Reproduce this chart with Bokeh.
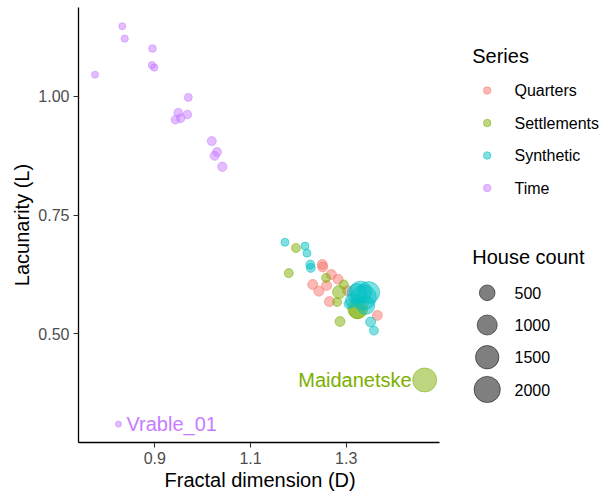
import math

from bokeh.core.properties import value
from bokeh.embed import file_html
from bokeh.models import ColumnDataSource, FixedTicker, NumeralTickFormatter, Range1d, Title
from bokeh.plotting import figure
from bokeh.resources import INLINE

FONT = "Liberation Sans"

# ---- data -------------------------------------------------------------
series_names = ["Quarters", "Settlements", "Synthetic", "Time"]
series_colors = ["#F8766D", "#7CAE00", "#00BFC4", "#C77CFF"]

quarters_D = [1.250, 1.251, 1.269, 1.283, 1.230, 1.259, 1.243, 1.265, 1.365, 1.303]
quarters_L = [0.646, 0.641, 0.625, 0.615, 0.604, 0.602, 0.590, 0.568, 0.539, 0.591]
quarters_houses = [107, 107, 107, 107, 107, 107, 107, 107, 107, 107]

settlements_D = [1.195, 1.180, 1.258, 1.295, 1.285, 1.281, 1.324, 1.287, 1.323, 1.464]
settlements_L = [0.681, 0.628, 0.618, 0.604, 0.588, 0.567, 0.553, 0.526, 0.549, 0.403]
settlements_houses = [68, 68, 68, 68, 278, 68, 990, 107, 530, 1590]

synthetic_D = [1.172, 1.214, 1.218, 1.225, 1.226, 1.305, 1.323, 1.337, 1.330,
               1.347, 1.313, 1.341, 1.351, 1.358]
synthetic_L = [0.693, 0.685, 0.670, 0.646, 0.639, 0.563, 0.585, 0.577, 0.588,
               0.587, 0.570, 0.560, 0.525, 0.507]
synthetic_houses = [37, 37, 37, 68, 68, 68, 990, 1760, 1270,
                    1270, 350, 740, 107, 68]

time_D = [0.775, 0.832, 0.837, 0.895, 0.894, 0.899, 0.970, 0.949, 0.968, 0.943,
          0.954, 1.019, 1.030, 1.025, 1.041, 0.824]
time_L = [1.046, 1.148, 1.122, 1.101, 1.066, 1.061, 0.998, 0.966, 0.962, 0.951,
          0.954, 0.906, 0.883, 0.875, 0.852, 0.310]
time_houses = [16, 16, 22, 30, 22, 22, 37, 55, 55, 55, 55, 68, 68, 68, 80, 4]

# named sites: (site, series, row within that series)
site_labels = ["Maidanetske", "Vrable_01"]
site_series = ["Settlements", "Time"]
site_rows = [9, 15]

size_breaks = [500, 1000, 1500, 2000]
x_ticks = [0.9, 1.1, 1.3]
y_ticks = [0.50, 0.75, 1.00]

all_D = [quarters_D, settlements_D, synthetic_D, time_D]
all_L = [quarters_L, settlements_L, synthetic_L, time_L]
all_houses = [quarters_houses, settlements_houses, synthetic_houses, time_houses]


def marker_size(houses):
    """Marker diameter in pixels; marker area grows with the house count."""
    return 5.1 + 0.474 * math.sqrt(houses)


# ---- layout constants (pixels) ------------------------------------------
W, H = 608, 492
LEFT, TOP, BOTTOM = 78, 7, 50
PANEL_RIGHT = 439                       # where the data panel (and x axis) ends
x_lo, x_hi = 0.7405, 1.495              # data extent of the panel
px_per_unit = (PANEL_RIGHT - LEFT) / (x_hi - x_lo)
x_frame_end = x_lo + (W - LEFT) / px_per_unit   # frame continues under the legend

p = figure(
    width=W, height=H,
    x_range=Range1d(x_lo, x_frame_end), y_range=Range1d(0.2713, 1.1874),
    output_backend="svg", toolbar_location=None,
    min_border_left=LEFT, min_border_right=0, min_border_top=TOP, min_border_bottom=BOTTOM,
    y_axis_label="Lacunarity (L)",
)
p.grid.visible = False
p.outline_line_color = None

# pixel-space ranges for the legend block
p.extra_x_ranges = {"px": Range1d(LEFT, W)}
p.extra_y_ranges = {"px": Range1d(H - BOTTOM, TOP)}

for ax in (p.xaxis[0], p.yaxis[0]):
    ax.axis_line_color = "black"
    ax.axis_line_width = 1.3
    ax.major_tick_line_color = "#333333"
    ax.major_tick_line_width = 1.1
    ax.major_tick_in = 0
    ax.major_tick_out = 5
    ax.minor_tick_line_color = None
    ax.major_label_text_font = FONT
    ax.major_label_text_font_size = "16px"
    ax.major_label_text_color = "#4D4D4D"
    ax.major_label_standoff = 4
    ax.axis_label_text_font = FONT
    ax.axis_label_text_font_size = "20px"
    ax.axis_label_text_font_style = "normal"
    ax.axis_label_text_color = "black"

p.xaxis.ticker = FixedTicker(ticks=x_ticks)
p.xaxis.formatter = NumeralTickFormatter(format="0.0")
p.xaxis.bounds = (x_lo, x_hi)
p.yaxis.ticker = FixedTicker(ticks=y_ticks)
p.yaxis.formatter = NumeralTickFormatter(format="0.00")
p.yaxis.axis_label_standoff = 2

# x title placed under the data panel (its width is ~189 px at 20px)
x_title = "Fractal dimension (D)"
x_title_width = 189
p.add_layout(Title(text=x_title, align="left",
                   offset=(LEFT + PANEL_RIGHT) / 2 - x_title_width / 2 - LEFT,
                   standoff=0, text_font=FONT, text_font_size="20px",
                   text_font_style="normal", text_color="black"), "below")

for name, color, D, L, houses in zip(series_names, series_colors, all_D, all_L, all_houses):
    src = ColumnDataSource(dict(D=D, L=L, size=[marker_size(h) for h in houses]))
    p.scatter("D", "L", size="size", source=src,
              fill_color=color, fill_alpha=0.5,
              line_color=color, line_alpha=0.5, line_width=1)

# site names beside their points
for site, series, r in zip(site_labels, site_series, site_rows):
    k = series_names.index(series)
    x, y = all_D[k][r], all_L[k][r]
    left_side = x > 1.2
    p.text(x=[x], y=[y], text=[site],
           text_color=series_colors[k], text_font=value(FONT), text_font_size="20px",
           text_align="right" if left_side else "left", text_baseline="middle",
           x_offset=-13 if left_side else 8)

# ---- legends ------------------------------------------------------------
title_x, key_x, label_x = 471.7, 486.7, 514
legend_kw = dict(x_range_name="px", y_range_name="px")
text_kw = dict(text_font=value(FONT), text_color="black", text_baseline="middle", **legend_kw)

p.text(x=[title_x], y=[55], text=["Series"], text_font_size="20px", **text_kw)
series_key_y = [90, 122.5, 155, 187.5]
p.scatter(x=[key_x] * 4, y=series_key_y, size=7.5,
          fill_color=series_colors, fill_alpha=0.5,
          line_color=series_colors, line_alpha=0.5, line_width=1, **legend_kw)
p.text(x=[label_x] * 4, y=series_key_y, text=series_names, text_font_size="16px", **text_kw)

p.text(x=[title_x], y=[256], text=["House count"], text_font_size="20px", **text_kw)
size_key_y = [292.3, 324.5, 356.7, 389.0]
p.scatter(x=[key_x] * 4, y=size_key_y, size=[marker_size(b) for b in size_breaks],
          fill_color="black", fill_alpha=0.5,
          line_color="black", line_alpha=0.5, line_width=1, **legend_kw)
p.text(x=[label_x] * 4, y=size_key_y, text=[str(b) for b in size_breaks],
       text_font_size="16px", **text_kw)

open("out.html", "w").write(file_html(p, INLINE))
